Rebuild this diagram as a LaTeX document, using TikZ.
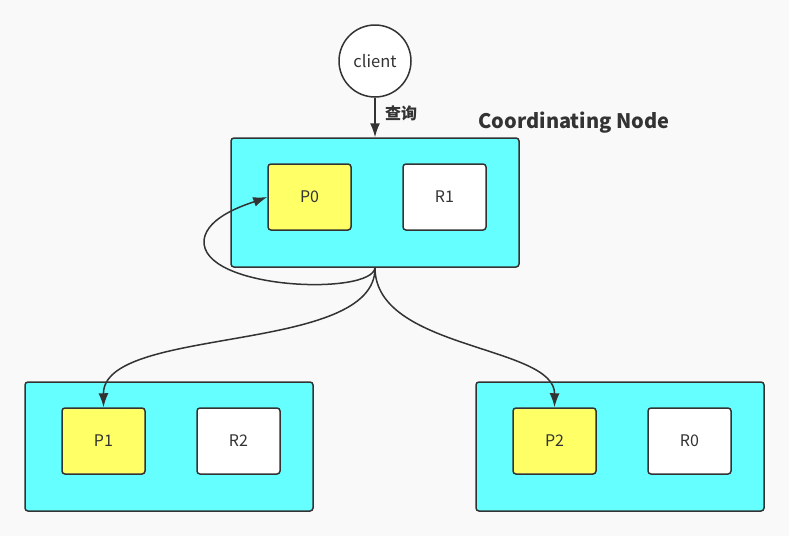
\documentclass[tikz,border=0pt]{standalone}
\usepackage{fontspec}
\setmainfont{Noto Sans CJK SC}
\usetikzlibrary{arrows.meta}
\definecolor{bg}{HTML}{F9F9F9}
\definecolor{ink}{HTML}{333333}
\definecolor{nodecyan}{HTML}{66FFFF}
\definecolor{primary}{HTML}{FFFF66}
\begin{document}
\begin{tikzpicture}[x=1pt,y=-1pt,
  every node/.style={text=ink, font=\fontsize{16}{18}\selectfont},
  esnode/.style={draw=ink, line width=1.5pt, fill=nodecyan, rounded corners=3pt,
    minimum width=288pt, minimum height=129pt, inner sep=0pt},
  shard/.style={draw=ink, line width=1.5pt, rounded corners=3pt,
    minimum width=83pt, minimum height=66pt, inner sep=0pt},
  pshard/.style={shard, fill=primary},
  rshard/.style={shard, fill=white},
  link/.style={draw=ink, line width=1.5pt, -{Latex[length=14pt,width=10pt]}}]
  % canvas
  \fill[bg] (0,0) rectangle (789,536);
  \useasboundingbox (0,0) rectangle (789,536);

  % client and the query arrow
  \node[circle, draw=ink, line width=1.5pt, fill=white, minimum size=72pt, inner sep=0pt,
        font=\fontsize{16.5}{18}\selectfont] (client) at (375,61) {client};

  % coordinating node with its shards
  \node[esnode] (coord) at (375,202.5) {};
  \node[pshard] (p0) at (309.5,197) {P0};
  \node[rshard] (r1) at (444.5,197) {R1};
  \node[font=\bfseries\fontsize{20}{22}\selectfont, anchor=west] (coordlabel) at (475,123) {Coordinating Node};

  % data nodes
  \node[esnode] (left) at (169,446.5) {};
  \node[pshard] (p1) at (103.5,441) {P1};
  \node[rshard] (r2) at (238.5,441) {R2};

  \node[esnode] (right) at (620,446.5) {};
  \node[pshard] (p2) at (554.5,441) {P2};
  \node[rshard] (r0) at (689.5,441) {R0};

  % query from the client
  \draw[link] (client.south) -- (coord.north)
    node[pos=0.4, right=6pt, font=\bfseries\fontsize{16}{18}\selectfont] (query) {查询};

  % fan-out from the coordinating node to the primaries
  \coordinate (fan) at (coord.south);
  \draw[link] (fan) .. controls (376,355) and (103,325) .. (p1.north);
  \draw[link] (fan) .. controls (375,350) and (555,345) .. (p2.north);
  \draw[link] (fan) .. controls (372,296) and (200,290) .. (204,240)
                    .. controls (207,216) and (248,204) .. (p0.west);
\end{tikzpicture}
\end{document}
